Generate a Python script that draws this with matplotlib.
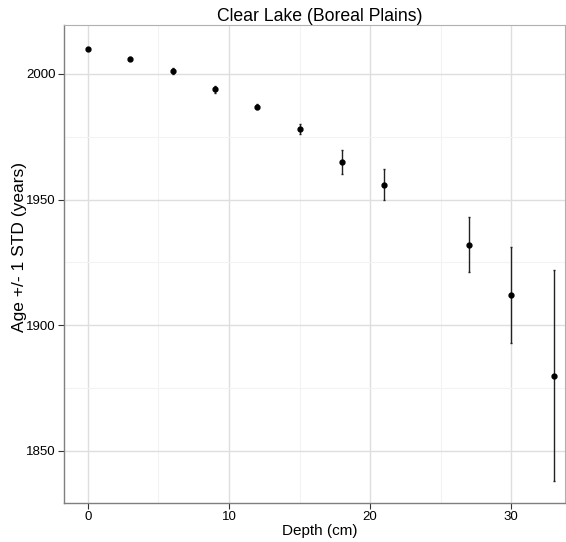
import numpy as np
import matplotlib.pyplot as plt
from matplotlib.ticker import MultipleLocator

plt.rcParams['font.family'] = ['Liberation Sans', 'DejaVu Sans']

depth = [0, 3, 6, 9, 12, 15, 18, 21, 27, 30, 33]
age = [2010, 2006, 2001, 1994, 1987, 1978, 1965, 1956, 1932, 1912, 1880]
age_std = [0.5, 0.6, 1.2, 1.4, 1.1, 2.0, 4.8, 6.2, 11, 19, 42]

fig = plt.figure(figsize=(5.66, 5.42), dpi=100)
ax = fig.add_axes([0.113, 0.072, 0.885, 0.882])

ax.errorbar(depth, age, yerr=age_std, fmt='o', color='black', ms=3.5,
            ecolor='#222222', elinewidth=1.0, capsize=1.0, capthick=1.0, zorder=3)

ax.set_xlim(-1.7, 33.8)
ax.set_ylim(1829.3, 2019.5)
ax.xaxis.set_major_locator(MultipleLocator(10))
ax.xaxis.set_minor_locator(MultipleLocator(5))
ax.yaxis.set_major_locator(MultipleLocator(50))
ax.yaxis.set_minor_locator(MultipleLocator(25))

ax.grid(which='major', color='#dedede', lw=1.0)
ax.grid(which='minor', color='#f3f3f3', lw=0.8)
ax.set_axisbelow(True)

for side in ['left', 'bottom']:
    ax.spines[side].set_color('#7f7f7f')
    ax.spines[side].set_linewidth(1.0)
for side in ['top', 'right']:
    ax.spines[side].set_color('#b0b0b0')
    ax.spines[side].set_linewidth(0.8)

ax.tick_params(which='major', direction='out', length=4, color='#333333',
               labelsize=9.5, labelcolor='black', pad=2)
ax.tick_params(which='minor', length=0)

ax.set_title("Clear Lake (Boreal Plains)", fontsize=12.7, x=0.51, y=1.0, pad=3)
ax.set_xlabel("Depth (cm)", fontsize=11)
ax.xaxis.set_label_coords(0.51, -0.043)
ax.set_ylabel("Age +/- 1 STD (years)", fontsize=12.5)
ax.yaxis.set_label_coords(-0.074, 0.536)

fig.savefig("out.png", dpi=100)
